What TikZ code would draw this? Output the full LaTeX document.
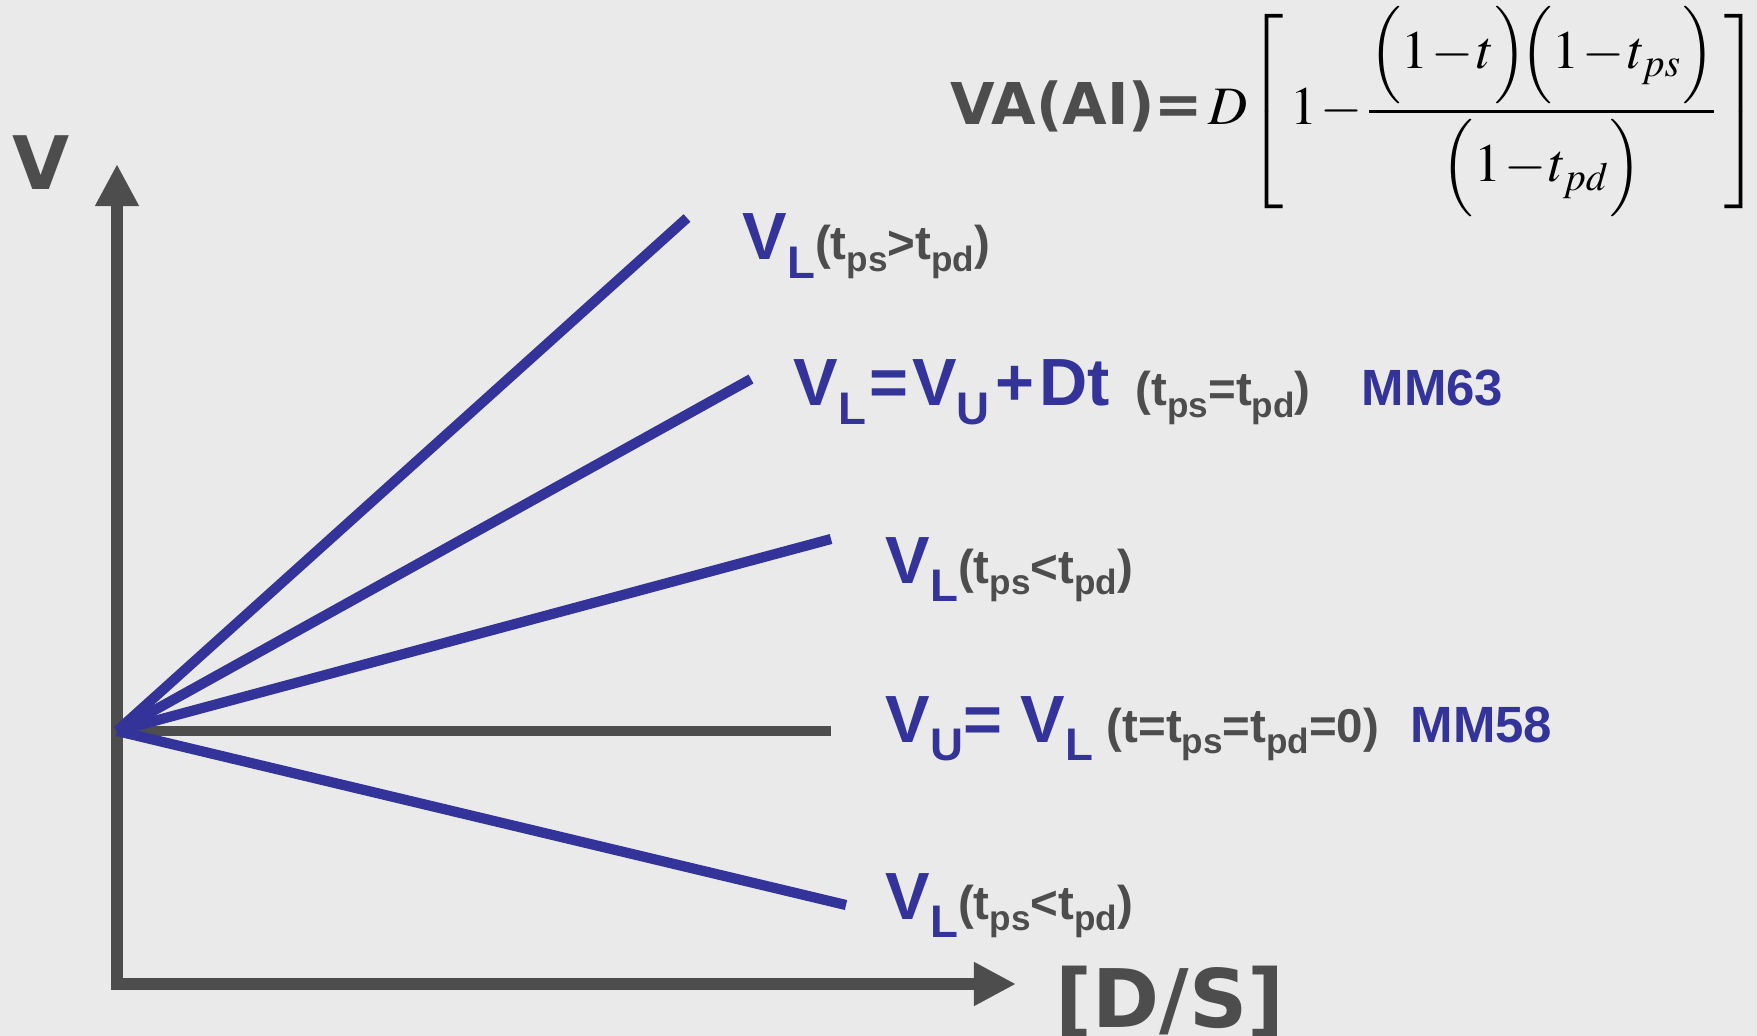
\documentclass[tikz,border=0pt]{standalone}
\usepackage{mathptmx}
\usepackage[no-math]{fontspec}
\usetikzlibrary{arrows.meta,positioning}
\newfontfamily\narrowsf{Liberation Sans}
\newfontfamily\widesf{DejaVu Sans}
\definecolor{vblue}{HTML}{333399}
\definecolor{vgray}{HTML}{4D4D4D}
\definecolor{bgray}{HTML}{EAEAEA}
% V mit blauem Index, t mit grauem Index
\newcommand{\Vsub}[1]{{\color{vblue}\bfseries V\raisebox{-0.28em}{\fontsize{13}{13}\selectfont #1}}}
\newcommand{\tsub}[1]{t\raisebox{-0.25em}{\fontsize{10}{10}\selectfont #1}}

\begin{document}
\begin{tikzpicture}[x=0.1mm, y=-0.1mm,
  ax/.style={line width=3.4pt, draw=vgray, line cap=rect, -{Triangle[length=12pt,width=11.7pt]}},
  ray/.style={line width=2.9pt, draw=vblue},
  lbl/.style={anchor=base west, inner sep=0pt, font=\narrowsf\fontsize{19}{22}\selectfont},
  cond/.style={anchor=base west, inner sep=0pt, text=vgray, font=\narrowsf\bfseries\fontsize{13.5}{16}\selectfont},
  mm/.style={anchor=base west, inner sep=0pt, text=vblue, font=\narrowsf\bfseries\fontsize{14.5}{17}\selectfont},
  axl/.style={anchor=base west, inner sep=0pt, text=vgray, font=\widesf\bfseries\fontsize{21}{24}\selectfont}
]
\fill[bgray] (0,0) rectangle (1757,1036);
\useasboundingbox (0,0) rectangle (1757,1036);
% Achsen
\coordinate (corner) at (117,984);
\coordinate (ytip) at (117,164);
\coordinate (xtip) at (1016,984);
\draw[ax] (corner) -- (ytip);
\draw[ax] (corner) -- (xtip);
\node[axl] (vax) at (12,190) {V};
\node[axl, font=\widesf\bfseries\fontsize{23}{26}\selectfont] (dsax) at (1055,1027) {[D/S]};
% Strahlen aus dem Ursprung
\coordinate (o) at (117,731);
\coordinate (e1) at (687,218);
\coordinate (e2) at (751,379);
\coordinate (e3) at (831,539);
\coordinate (e4) at (831,731);
\coordinate (e5) at (846,905);
\draw[ray, draw=vgray] (o) -- (e4);
\foreach \e in {e1,e2,e3,e5} \draw[ray] (o) -- (\e);
% Beschriftungen
\node[lbl] (l1) at (742,260) {\Vsub{L}{\color{vgray}\bfseries\fontsize{13.5}{16}\selectfont(\tsub{ps}>\tsub{pd})}};
\node[lbl, text=vblue, font=\narrowsf\bfseries\fontsize{19}{22}\selectfont] (l2) at (793,406)
  {\Vsub{L}\kern1pt=\kern1pt\Vsub{U}\kern1.5pt+\kern1.5pt Dt};
\node[cond] (c2) at (1135,406) {(\tsub{ps}=\tsub{pd})};
\node[mm] (m2) at (1361,406) {MM63};
\node[lbl] (l3) at (885,583) {\Vsub{L}{\color{vgray}\bfseries\fontsize{13.5}{16}\selectfont(\tsub{ps}<\tsub{pd})}};
\node[lbl, text=vblue, font=\narrowsf\bfseries\fontsize{19}{22}\selectfont] (l4) at (885,742)
  {\Vsub{U}= \Vsub{L}};
\node[cond] (c4) at (1106,742) {(t=\tsub{ps}=\tsub{pd}=0)};
\node[mm] (m4) at (1410,742) {MM58};
\node[lbl] (l5) at (885,919) {\Vsub{L}{\color{vgray}\bfseries\fontsize{13.5}{16}\selectfont(\tsub{ps}<\tsub{pd})}};
% Formel
\node[anchor=base west, inner sep=0pt] (va) at (950,125)
  {{\color{vgray}\widesf\bfseries\fontsize{16.4}{20}\selectfont VA(AI)=}\,\fontsize{15.4}{18.5}\selectfont
   $\medmuskip=1mu D\!\left[\,1-{\displaystyle\frac{\Bigl(1-t\Bigr)\!\Bigl(1-t_{ps}\Bigr)}{\Bigl(1-t_{pd}\Bigr)}}\,\right]$};
\end{tikzpicture}
\end{document}
